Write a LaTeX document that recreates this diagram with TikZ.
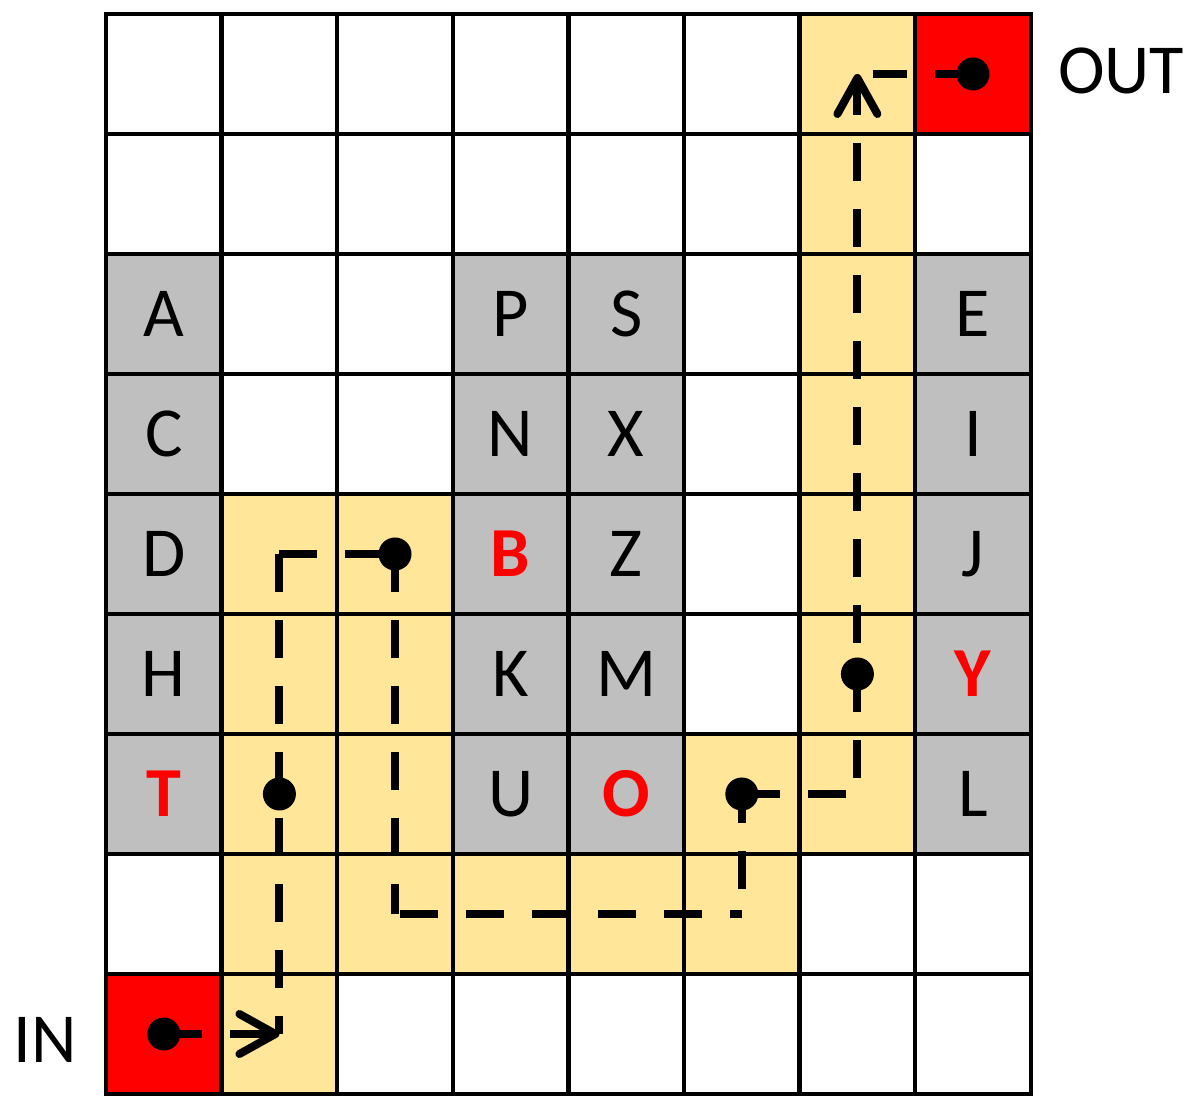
\documentclass[tikz,border=0pt]{standalone}
\usepackage{fontspec}
\setmainfont{Carlito}
\usetikzlibrary{arrows.meta}

\definecolor{routeyellow}{HTML}{FFE699}
\definecolor{blockgray}{HTML}{BFBFBF}
\definecolor{portred}{HTML}{FF0000}

\tikzset{
	letter/.style={inner sep=0, font=\fontsize{20}{24}\selectfont},
	hot/.style={letter, text=portred, font=\fontsize{20}{24}\selectfont\bfseries},
	wire/.style={line width=0.8mm, dash pattern=on 3.8mm off 2.8mm},
	arrowend/.style={-{Straight Barb[length=3.6mm,width=4mm,round]}},
	dot/.style={circle, fill=black, inner sep=0, minimum size=3.3mm},
}

\begin{document}
\begin{tikzpicture}
	\useasboundingbox (0,0) rectangle (12,-11.09);

	\begin{scope} % board
		\providecommand{\colw}{1.156}
		\providecommand{\rowh}{1.2}
		\providecommand{\xorg}{1.06}
		\providecommand{\yorg}{-0.14}

		% cell centres
		\foreach \c in {0,...,7}
			\foreach \r in {0,...,8}
				{
					\coordinate (c\c-\r) at ({\xorg+(\c+0.5)*\colw},{\yorg-(\r+0.5)*\rowh});
				}

		\begin{scope} % fills
			\foreach \c/\r in {6/0,6/1,6/2,6/3,1/4,2/4,6/4,1/5,2/5,6/5,1/6,2/6,5/6,6/6,1/7,2/7,3/7,4/7,5/7,1/8}
				\fill[routeyellow] ({\xorg+\c*\colw},{\yorg-\r*\rowh}) rectangle ++(\colw,-\rowh);
			\foreach \c in {0,3,4,7}
				\foreach \r in {2,...,6}
					\fill[blockgray] ({\xorg+\c*\colw},{\yorg-\r*\rowh}) rectangle ++(\colw,-\rowh);
			\foreach \c/\r in {7/0,0/8}
				\fill[portred] ({\xorg+\c*\colw},{\yorg-\r*\rowh}) rectangle ++(\colw,-\rowh);
		\end{scope}

		\begin{scope}[line width=1.2pt] % grid
			\foreach \c in {1,...,7}
				\draw ({\xorg+\c*\colw},\yorg) -- ++(0,-9*\rowh);
			\foreach \r in {1,...,8}
				\draw (\xorg,{\yorg-\r*\rowh}) -- ++(8*\colw,0);
			\draw (\xorg,\yorg) rectangle ++(8*\colw,-9*\rowh);
		\end{scope}
	\end{scope}

	% letters
	\foreach \c/\r/\txt in {0/2/A,0/3/C,0/4/D,0/5/H,3/2/P,3/3/N,3/5/K,3/6/U,4/2/S,4/3/X,4/4/Z,4/5/M,7/2/E,7/3/I,7/4/J,7/6/L}
		\node[letter] (l\txt) at (c\c-\r) {\txt};
	\foreach \c/\r/\txt in {0/6/T,3/4/B,4/6/O,7/5/Y}
		\node[hot] (l\txt) at (c\c-\r) {\txt};

	% route
	\coordinate (outend) at ([xshift=1.6mm]c6-0);
	\draw[wire,arrowend] (c0-8) -- (c1-8);
	\draw[wire] (c1-4) -- (c1-8);
	\draw[wire] (c1-4) -- (c2-4);
	\draw[wire] (c2-4) -- (c2-7);
	\draw[wire,dash phase=6.1mm] (c2-7) -- (c5-7);
	\draw[wire,dash phase=0.9mm] (c5-6) -- (c5-7);
	\draw[wire] (c5-6) -- (c6-6) -- (c6-5);
	\draw[wire,arrowend,dash phase=3.5mm] (c6-5) -- (c6-0);
	\draw[wire] (c7-0) -- (outend);

	\foreach \p in {c0-8,c1-6,c2-4,c5-6,c6-5,c7-0}
		\node[dot] at (\p) {};

	% ports
	\node[letter] (inlbl) at (0.45,-10.40) {IN};
	\node[letter] (outlbl) at (11.21,-0.71) {OUT};
\end{tikzpicture}
\end{document}
